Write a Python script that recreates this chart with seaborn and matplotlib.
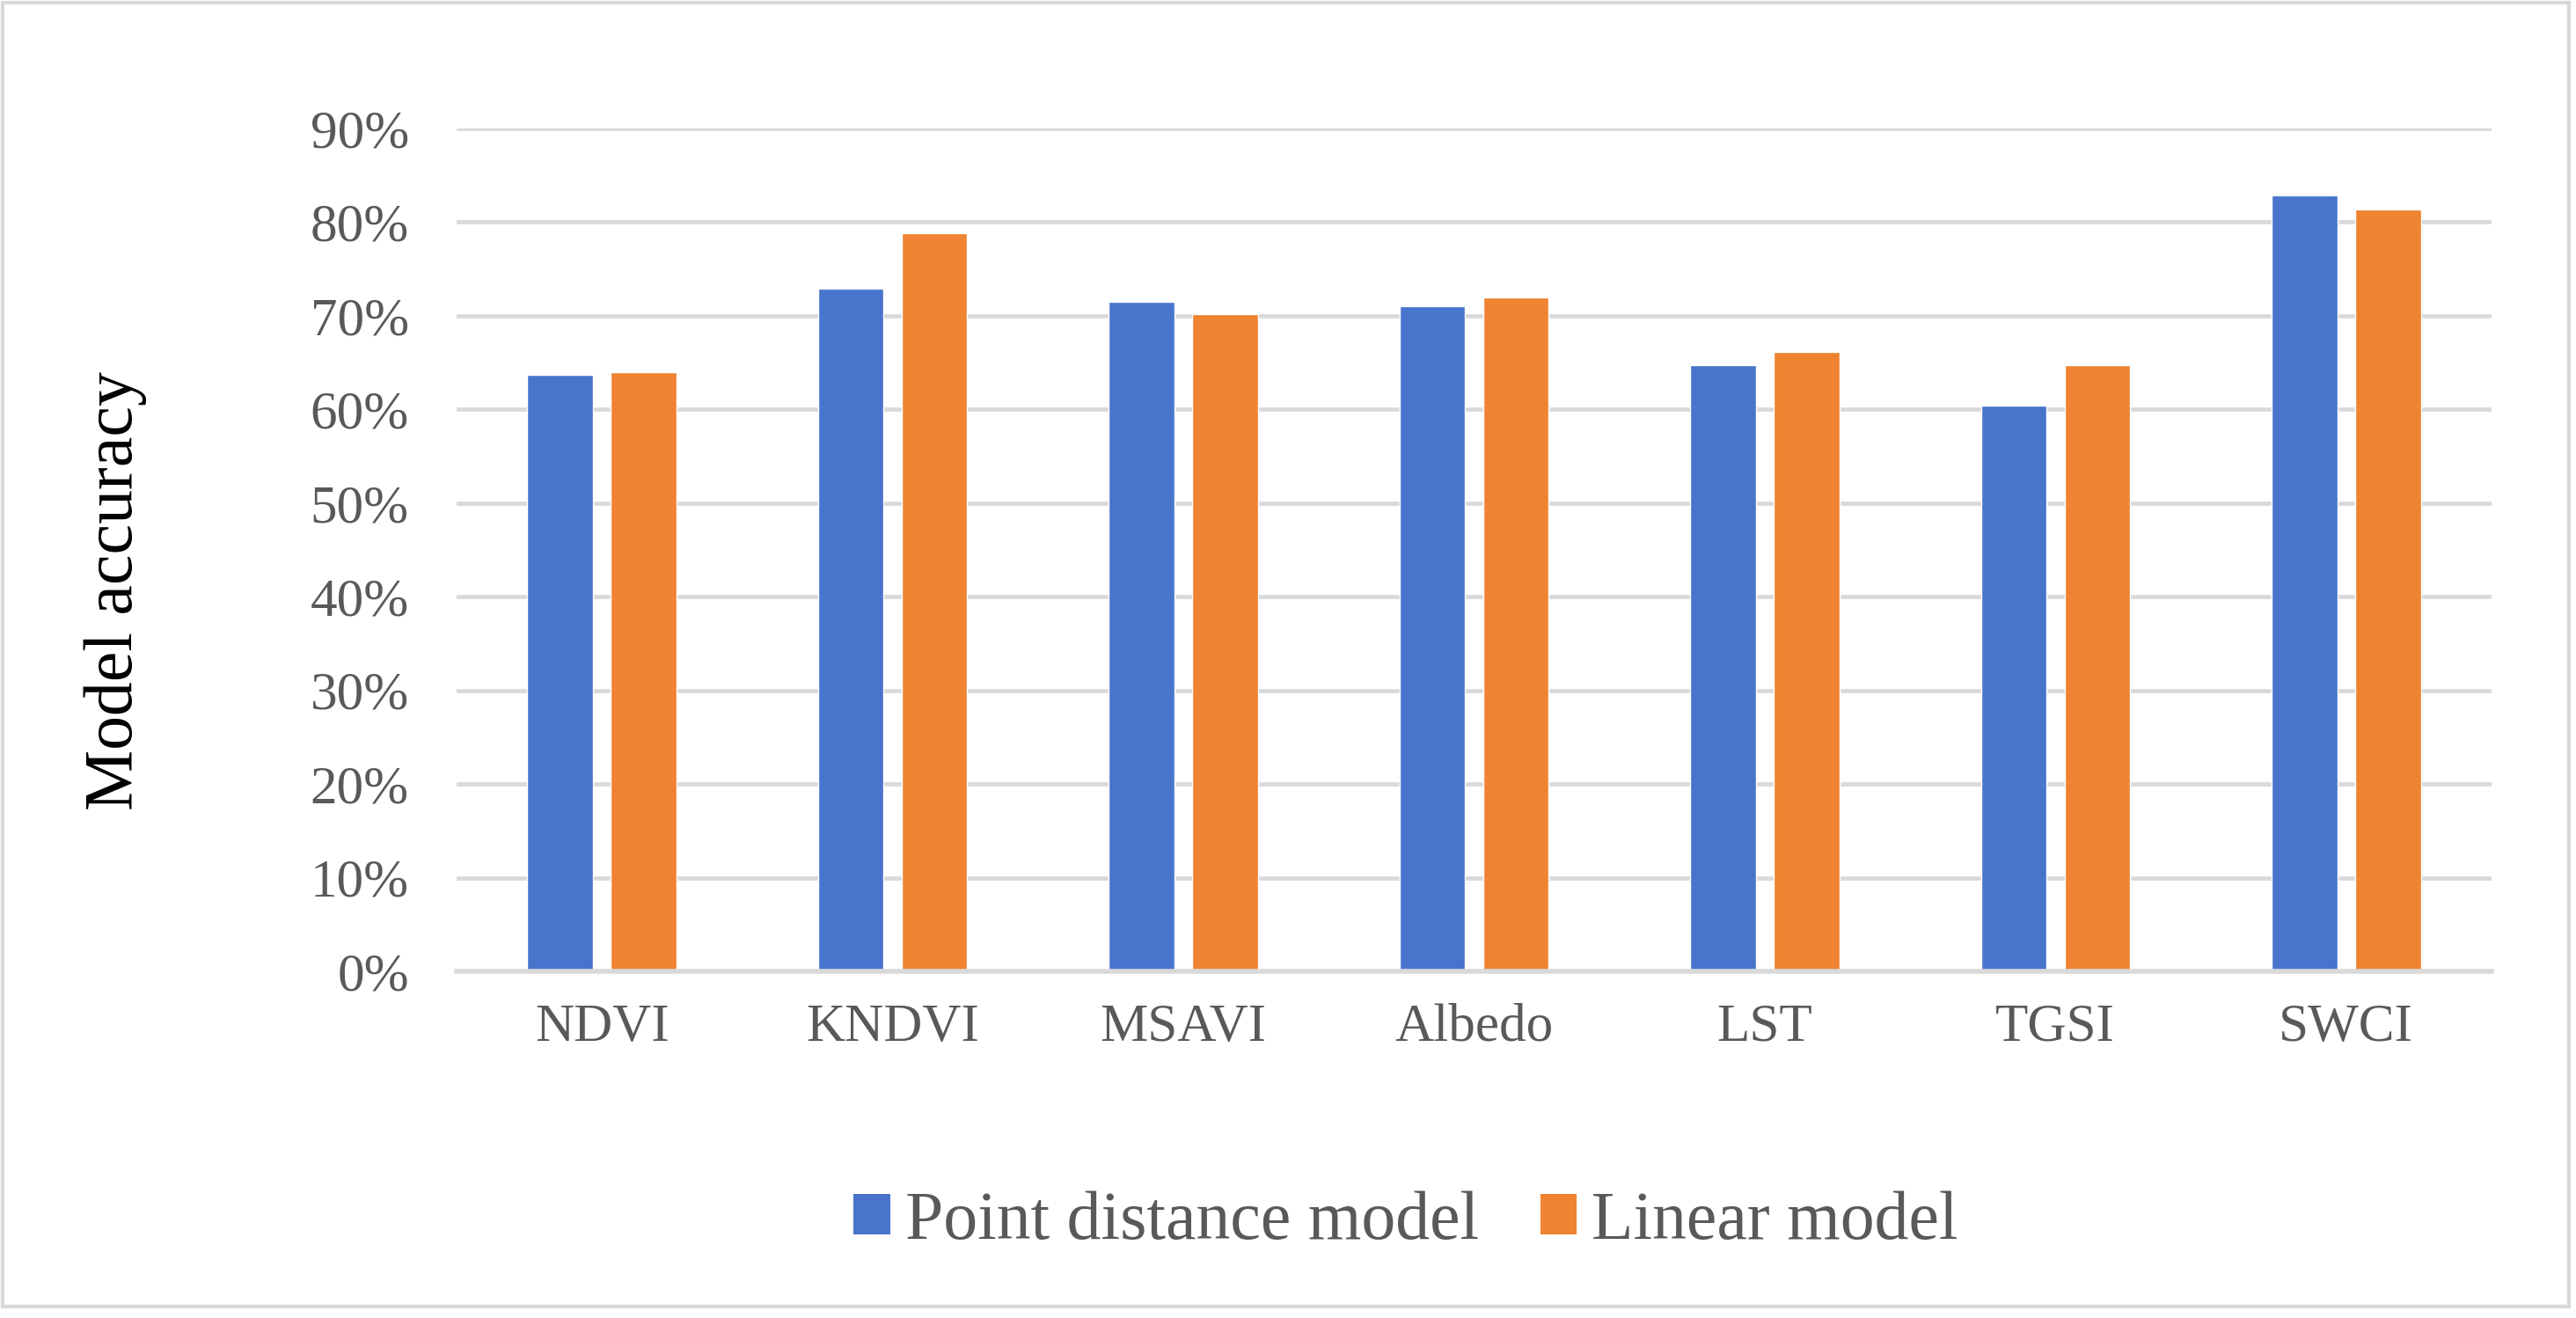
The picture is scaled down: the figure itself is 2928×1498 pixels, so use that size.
import matplotlib
matplotlib.use("Agg")
import matplotlib.pyplot as plt
from matplotlib.ticker import PercentFormatter, MultipleLocator
from matplotlib.patches import Rectangle, Patch
import seaborn as sns
import pandas as pd

# ---- data ----
categories = ["NDVI", "KNDVI", "MSAVI", "Albedo", "LST", "TGSI", "SWCI"]
series_names = ["Point distance model", "Linear model"]
point_distance = [63.7, 72.9, 71.5, 71.0, 64.7, 60.4, 82.9]
linear_model = [64.0, 78.8, 70.2, 72.0, 66.1, 64.7, 81.4]
colors = ["#4874CB", "#EF8331"]

df = pd.DataFrame({
    "Index": categories * 2,
    "Model": [series_names[0]] * len(categories) + [series_names[1]] * len(categories),
    "Accuracy": point_distance + linear_model,
})

sns.set_theme(style="white")
plt.rcParams["font.family"] = ["Liberation Serif", "DejaVu Serif"]

W, H = 2928, 1498
fig = plt.figure(figsize=(W / 100, H / 100), dpi=100)
ax = fig.add_axes([519 / W, 1 - 1104 / H, (2832 - 519) / W, (1104 - 146) / H])

sns.barplot(data=df, x="Index", y="Accuracy", hue="Model", order=categories,
            hue_order=series_names, palette=colors, width=0.575, gap=0.216,
            saturation=1, ax=ax, legend=False, errorbar=None)

ax.set_ylim(0, 90)
ax.set_xlim(-0.5, len(categories) - 0.5)
ax.yaxis.set_major_locator(MultipleLocator(10))
ax.yaxis.set_major_formatter(PercentFormatter(100, decimals=0))
ax.set_axisbelow(True)
ax.grid(axis="y", color="#D9D9D9", linewidth=3.4)
ax.grid(axis="x", visible=False)
for side in ["left", "right", "top"]:
    ax.spines[side].set_visible(False)
ax.spines["bottom"].set_color("#D9D9D9")
ax.spines["bottom"].set_linewidth(4)
ax.tick_params(axis="both", length=0, labelsize=44, labelcolor="#595959")
ax.tick_params(axis="x", pad=26)
ax.tick_params(axis="y", pad=39)
ax.set_xlabel("")
ax.set_ylabel("")

fig.text(131 / W, 1 - 672 / H, "Model accuracy", rotation=90, ha="center",
         va="center", fontsize=56, color="black")

handles = [Patch(facecolor=c, edgecolor="none") for c in colors]
fig.legend(handles, series_names, loc="center", bbox_to_anchor=(1598 / W, 1 - 1389 / H),
           ncol=2, frameon=False, fontsize=56, labelcolor="#595959",
           handlelength=0.53, handleheight=0.53, handletextpad=0.22,
           columnspacing=0.9, borderpad=0, borderaxespad=0)

fig.patches.append(Rectangle((3 / W, 1 - 1485 / H), (2920 - 3) / W, (1485 - 3) / H,
                             transform=fig.transFigure, fill=False,
                             edgecolor="#D9D9D9", linewidth=3))

fig.savefig("out.png", dpi=100, facecolor="white")
